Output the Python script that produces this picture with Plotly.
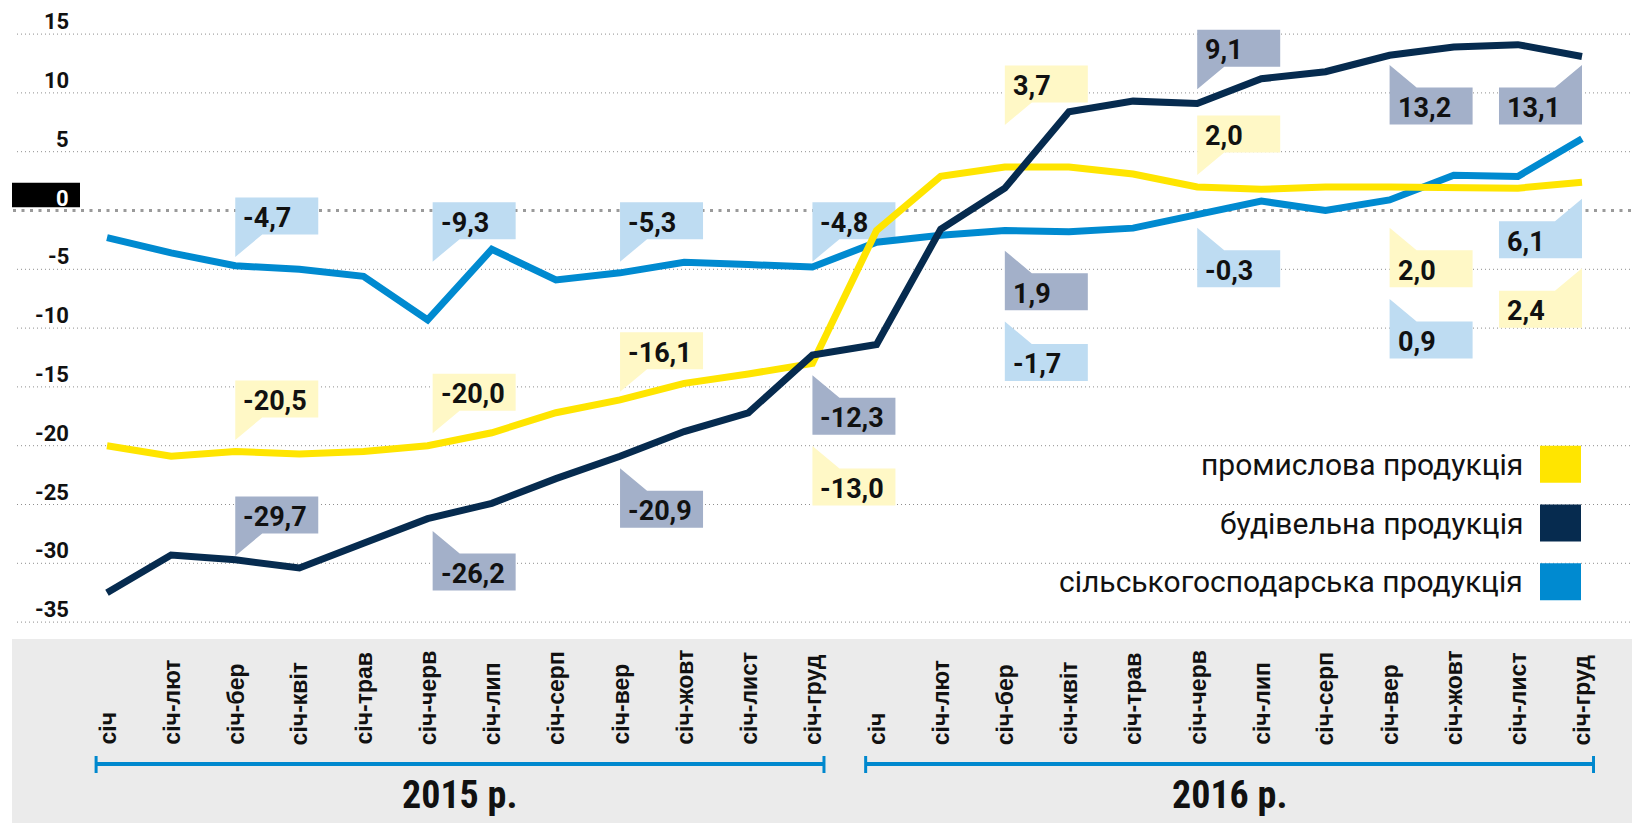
import plotly.graph_objects as go

# ---------------- data ----------------
months = ["січ", "січ-лют", "січ-бер", "січ-квіт", "січ-трав", "січ-черв",
          "січ-лип", "січ-серп", "січ-вер", "січ-жовт", "січ-лист", "січ-груд"]
tick_labels = months + months
years = ["2015 р.", "2016 р."]
y_ticks = [15, 10, 5, 0, -5, -10, -15, -20, -25, -30, -35]

industry = [-20.0, -20.9, -20.5, -20.7, -20.5, -20.0, -18.9, -17.2, -16.1, -14.7, -13.9, -13.0,
            -1.7, 2.9, 3.7, 3.7, 3.1, 2.0, 1.8, 2.0, 2.0, 1.9, 1.9, 2.4]
construction = [-32.5, -29.3, -29.7, -30.4, -28.3, -26.2, -24.9, -22.8, -20.9, -18.8, -17.2, -12.3,
                -11.4, -1.6, 1.9, 8.4, 9.3, 9.1, 11.2, 11.8, 13.2, 13.9, 14.1, 13.1]
agriculture = [-2.3, -3.6, -4.7, -5.0, -5.6, -9.3, -3.3, -5.9, -5.3, -4.4, -4.6, -4.8,
               -2.7, -2.1, -1.7, -1.8, -1.5, -0.3, 0.8, 0.0, 0.9, 3.0, 2.9, 6.1]

series_names = ["промислова продукція", "будівельна продукція", "сільськогосподарська продукція"]

# ---------------- styles / layout ----------------
W_PX, H_PX = 1632, 823
X0_PX, DX_PX = 107.0, 64.13
Y0_PX, DY_PX = 210.5, 11.76
x_range = [-X0_PX / DX_PX, (W_PX - X0_PX) / DX_PX]
y_range = [(Y0_PX - H_PX) / DY_PX, Y0_PX / DY_PX]

LINE = {"ind": "#FFE500", "con": "#062B4F", "agr": "#008AD0"}
FILL = {"ind": "#FFF8C6", "con": "#A3B0C9", "agr": "#BEDCF2"}
DATA = {"ind": industry, "con": construction, "agr": agriculture}

NUM_FONT = "Roboto, sans-serif"
TICK_FONT = "Liberation Sans, Arial, sans-serif"
YEAR_FONT = "Liberation Sans Narrow, Roboto Condensed, sans-serif"

# callouts: (series, index, side, tail side, gap px from point to tip, x shift px)
callouts = [
    ("agr", 2, "above", "left", 8.8, 0), ("agr", 5, "above", "left", 58.2, 5),
    ("agr", 8, "above", "left", 11.1, 0), ("agr", 11, "above", "left", 5.3, 0),
    ("agr", 14, "below", "left", 91, 0), ("agr", 17, "below", "left", 13.7, 0),
    ("agr", 20, "below", "left", 99, 0), ("agr", 23, "below", "right", 60, 0),
    ("ind", 2, "above", "left", 11.6, 0), ("ind", 5, "above", "left", 12.4, 5),
    ("ind", 8, "above", "left", 8, 0), ("ind", 11, "below", "left", 82.6, 0),
    ("ind", 14, "above", "left", 42, 0), ("ind", 17, "above", "left", 12, 0),
    ("ind", 20, "below", "left", 40.7, 0), ("ind", 23, "below", "right", 86, 0),
    ("con", 2, "above", "left", 3.8, 0), ("con", 5, "below", "left", 12.4, 5),
    ("con", 8, "below", "left", 12, 0), ("con", 11, "below", "left", 20, 0),
    ("con", 14, "below", "left", 62.5, 0), ("con", 17, "above", "left", 14.2, 0),
    ("con", 20, "below", "left", 9.7, 0), ("con", 23, "below", "right", 8.6, 0),
]
BW, BH, TL, TW = 83, 37, 22.5, 27

x_idx = list(range(len(tick_labels)))

fig = go.Figure()
for key in ["agr", "ind", "con"]:
    fig.add_trace(go.Scatter(x=x_idx, y=DATA[key], mode="lines",
                             line=dict(color=LINE[key], width=7),
                             hoverinfo="skip", showlegend=False))

shapes = []
annotations = []

# grey band under the chart
shapes.append(dict(type="rect", xref="paper", yref="paper", x0=12 / W_PX, x1=1,
                   y0=0, y1=1 - 639 / H_PX, fillcolor="#EBEBEB", line_width=0, layer="below"))

# gridlines
for v in y_ticks:
    if v == 0:
        shapes.append(dict(type="line", xref="paper", yref="y", x0=13 / W_PX, x1=1, y0=0, y1=0,
                           line=dict(color="#9A9A9A", width=3, dash="3px,5.5px"), layer="below"))
    else:
        shapes.append(dict(type="line", xref="paper", yref="y", x0=17 / W_PX, x1=1, y0=v, y1=v,
                           line=dict(color="#8E8E8E", width=1, dash="1px,3px"), layer="below"))

# zero label background
shapes.append(dict(type="rect", xref="paper", yref="y", ysizemode="pixel", yanchor=0,
                   x0=12 / W_PX, x1=80 / W_PX, y0=3.2, y1=27.8,
                   fillcolor="#000000", line_width=0, layer="below"))

# y tick labels
for v in y_ticks:
    annotations.append(dict(xref="paper", yref="y", x=71 / W_PX, y=v, text=f"<b>{v}</b>",
                            xanchor="right", yanchor="bottom", yshift=-2, showarrow=False,
                            font=dict(family=NUM_FONT, size=22,
                                      color="#FFFFFF" if v == 0 else "#111111")))


def callout_path(side, tail, g, dx):
    if side == "above":
        pts = [(0, -g), (0, -g - TL - BH), (BW, -g - TL - BH), (BW, -g - TL), (TW, -g - TL)]
    else:
        pts = [(0, g), (TW, g + TL), (BW, g + TL), (BW, g + TL + BH), (0, g + TL + BH)]
    if tail == "right":
        pts = [(-x, y) for x, y in pts]
    pts = [(x + dx, -y) for x, y in pts]
    return "M " + " L ".join(f"{x:.2f},{y:.2f}" for x, y in pts) + " Z"


for key, i, side, tail, g, dx in callouts:
    val = DATA[key][i]
    shapes.append(dict(type="path", xref="x", yref="y", xsizemode="pixel", ysizemode="pixel",
                       xanchor=i, yanchor=val, path=callout_path(side, tail, g, dx),
                       fillcolor=FILL[key], line_width=0, layer="below"))
    box_left = dx if tail == "left" else dx - BW
    center = (-g - TL - BH / 2) if side == "above" else (g + TL + BH / 2)
    annotations.append(dict(xref="x", yref="y", x=i, y=val,
                            text="<b>" + f"{val:.1f}".replace(".", ",") + "</b>",
                            xanchor="left", yanchor="middle",
                            xshift=box_left + 6, yshift=-center - 2, showarrow=False,
                            font=dict(family=NUM_FONT, size=27, color="#111111")))

# x tick labels (rotated)
for i, lab in enumerate(tick_labels):
    annotations.append(dict(xref="x", yref="paper", x=i, y=1 - 747 / H_PX, text=f"<b>{lab}</b>",
                            textangle=-90, xanchor="center", yanchor="bottom", showarrow=False,
                            font=dict(family=TICK_FONT, size=23, color="#111111")))

# year brackets
n = len(months)
for k, yr in enumerate(years):
    a, b = k * n - 0.17, k * n + n - 1 + 0.18
    yb = 1 - 764 / H_PX
    shapes.append(dict(type="line", xref="x", yref="paper", x0=a, x1=b, y0=yb, y1=yb,
                       line=dict(color="#0088CE", width=4)))
    for xx in (a, b):
        shapes.append(dict(type="line", xref="x", yref="paper", x0=xx, x1=xx,
                           y0=1 - 756 / H_PX, y1=1 - 773 / H_PX,
                           line=dict(color="#0088CE", width=3)))
    annotations.append(dict(xref="x", yref="paper", x=(k * n + k * n + n - 1) / 2,
                            y=1 - 795 / H_PX, text=f"<b>{yr}</b>", xanchor="center",
                            yanchor="middle", showarrow=False,
                            font=dict(family=YEAR_FONT, size=38, color="#111111")))

# legend
for name, key, v in zip(series_names, ["ind", "con", "agr"], [-20, -25, -30]):
    shapes.append(dict(type="rect", xref="paper", yref="y", ysizemode="pixel", yanchor=v,
                       x0=1540 / W_PX, x1=1581 / W_PX, y0=0, y1=-37,
                       fillcolor=LINE[key], line_width=0))
    annotations.append(dict(xref="paper", yref="y", x=1525 / W_PX, y=v, yshift=-18.5,
                            text=name, xanchor="right", yanchor="middle", showarrow=False,
                            font=dict(family="Roboto, sans-serif", size=30, color="#111111")))

fig.update_layout(
    width=W_PX, height=H_PX, autosize=False,
    margin=dict(l=0, r=0, t=0, b=0, pad=0),
    paper_bgcolor="#FFFFFF", plot_bgcolor="#FFFFFF",
    xaxis=dict(range=x_range, visible=False, fixedrange=True),
    yaxis=dict(range=y_range, visible=False, fixedrange=True),
    shapes=shapes, annotations=annotations, showlegend=False,
)

fig.write_html("out.html", include_plotlyjs=True, config={"displayModeBar": False},
               post_script="document.body.style.margin='0';document.body.style.overflow='hidden';")
